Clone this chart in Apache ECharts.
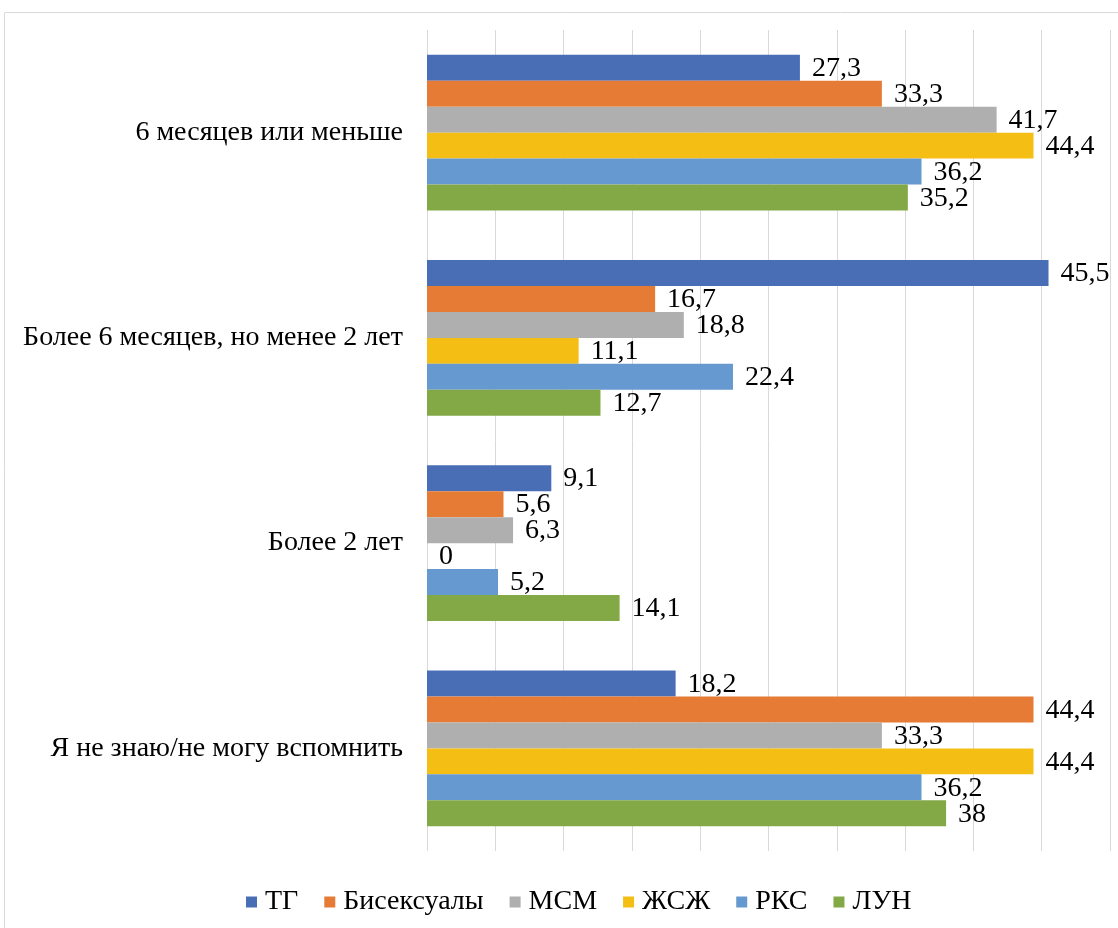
<!DOCTYPE html>
<html>
<head>
<meta charset="utf-8">
<script src="https://cdn.jsdelivr.net/npm/echarts@6/dist/echarts.min.js"></script>
<style>
  html, body { margin: 0; padding: 0; background: #fff; }
  #chart { width: 1118px; height: 928px; }
</style>
</head>
<body>
<div id="chart"></div>
<script>
// Сроки — категории по вертикальной оси
const categories = [
  '6 месяцев или меньше',
  'Более 6 месяцев, но менее 2 лет',
  'Более 2 лет',
  'Я не знаю/не могу вспомнить'
];

// Группы и их значения (%), по порядку категорий
const seriesNames = ['ТГ', 'Бисексуалы', 'МСМ', 'ЖСЖ', 'РКС', 'ЛУН'];
const valuesTG   = [27.3, 45.5, 9.1, 18.2];
const valuesBi   = [33.3, 16.7, 5.6, 44.4];
const valuesMSM  = [41.7, 18.8, 6.3, 33.3];
const valuesWSW  = [44.4, 11.1, 0, 44.4];
const valuesPKS  = [36.2, 22.4, 5.2, 36.2];
const valuesLUN  = [35.2, 12.7, 14.1, 38];
const seriesValues = [valuesTG, valuesBi, valuesMSM, valuesWSW, valuesPKS, valuesLUN];

const colors = ['#4a6eb5', '#e57b35', '#afafaf', '#f5be15', '#6699cf', '#83a846'];
const serif = '"Liberation Serif", "DejaVu Serif", serif';
const textSize = 28;

const chart = echarts.init(document.getElementById('chart'), null, { renderer: 'canvas' });

chart.setOption({
  backgroundColor: '#ffffff',
  color: colors,
  animation: false,
  graphic: [{
    type: 'rect',
    shape: { x: 4.5, y: 12.5, width: 1130, height: 930 },
    style: { fill: 'none', stroke: '#d9d9d9', lineWidth: 1 },
    silent: true
  }],
  grid: { left: 427, right: 8, top: 30, bottom: 77, containLabel: false },
  legend: {
    data: seriesNames,
    top: 883,
    left: 241,
    icon: 'rect',
    itemWidth: 11,
    itemHeight: 11,
    itemGap: 26,
    textStyle: { fontFamily: serif, fontSize: textSize, color: '#000', padding: [0, 0, 0, 3] }
  },
  xAxis: {
    type: 'value',
    min: 0,
    max: 50,
    interval: 5,
    axisLabel: { show: false },
    axisLine: { show: false },
    axisTick: { show: false },
    splitLine: { lineStyle: { color: '#d9d9d9', width: 1 } }
  },
  yAxis: {
    type: 'category',
    data: categories,
    inverse: true,
    axisLine: { show: false },
    axisTick: { show: false },
    axisLabel: { margin: 24, fontFamily: serif, fontSize: textSize, color: '#000' }
  },
  series: seriesNames.map((name, i) => ({
    name,
    type: 'bar',
    data: seriesValues[i],
    barGap: '0%',
    barCategoryGap: '24%',
    label: {
      show: true,
      position: 'right',
      distance: 12,
      offset: [0, 1],
      fontFamily: serif,
      fontSize: textSize,
      color: '#000',
      formatter: p => String(p.value).replace('.', ',')
    }
  }))
});
</script>
</body>
</html>
